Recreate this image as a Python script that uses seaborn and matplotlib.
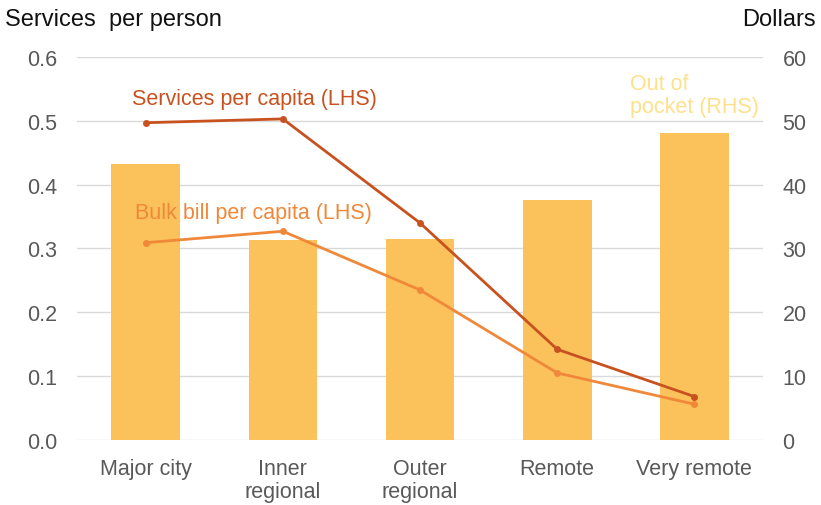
import matplotlib
matplotlib.use("Agg")
import matplotlib.pyplot as plt
import seaborn as sns
import pandas as pd

categories = ["Major city", "Inner\nregional", "Outer\nregional", "Remote", "Very remote"]
out_of_pocket = [43.2, 31.3, 31.5, 37.6, 48.1]
services_per_capita = [0.497, 0.503, 0.340, 0.142, 0.068]
bulk_bill_per_capita = [0.309, 0.327, 0.235, 0.105, 0.056]
left_ticks = [0.0, 0.1, 0.2, 0.3, 0.4, 0.5, 0.6]
right_ticks = [0, 10, 20, 30, 40, 50, 60]

sns.set_theme(style="white")
plt.rcParams['font.family'] = ['Liberation Sans', 'DejaVu Sans']

df = pd.DataFrame({"cat": categories, "oop": out_of_pocket,
                   "svc": services_per_capita, "bulk": bulk_bill_per_capita})

fig = plt.figure(figsize=(8.21, 5.06), dpi=100)
ax = fig.add_axes([0.0938, 0.1285, 0.8356, 0.7569])
ax2 = ax.twinx()

bar_col = "#FBC15A"
svc_col = "#C8521F"
bulk_col = "#F0883A"
tick_col = "#595959"
fs = 15.5

sns.barplot(data=df, x="cat", y="oop", ax=ax2, color=bar_col, width=0.5,
            saturation=1, edgecolor="none")
ax2.set_ylim(0, 60)
ax2.set_yticks(right_ticks)
ax2.grid(axis="y", color="#D9D9D9", linewidth=1)
ax2.set_axisbelow(True)

ax.set_zorder(ax2.get_zorder() + 1)
ax.patch.set_visible(False)

sns.lineplot(data=df, x="cat", y="svc", ax=ax, color=svc_col, marker="o",
             markersize=5, markeredgewidth=0, linewidth=2, sort=False)
sns.lineplot(data=df, x="cat", y="bulk", ax=ax, color=bulk_col, marker="o",
             markersize=5, markeredgewidth=0, linewidth=2, sort=False)
ax.set_ylim(0, 0.6)
ax.set_yticks(left_ticks)
ax.set_yticklabels([f"{t:.1f}" for t in left_ticks])
ax.set_xlim(-0.5, 4.5)

for a in (ax, ax2):
    for s in a.spines.values():
        s.set_visible(False)
    a.set_xlabel("")
    a.set_ylabel("")
    a.tick_params(length=0, labelsize=fs, labelcolor=tick_col)
ax.tick_params(axis="y", pad=14)
ax2.tick_params(axis="y", pad=14)
ax.tick_params(axis="x", pad=13)
ax2.tick_params(axis="x", labelbottom=False)
for lbl in ax.get_xticklabels():
    lbl.set_linespacing(1.15)

fig.text(0.006, 0.96, "Services  per person", fontsize=17, color="#111111", va="center", ha="left")
fig.text(0.994, 0.96, "Dollars", fontsize=17, color="#111111", va="center", ha="right")

ax.text(0.79, 0.535, "Services per capita (LHS)", fontsize=fs, color=svc_col, ha="center", va="center")
ax.text(-0.08, 0.357, "Bulk bill per capita (LHS)", fontsize=fs, color=bulk_col, ha="left", va="center")
ax2.text(3.53, 54.0, "Out of\npocket (RHS)", fontsize=fs, color="#FFE08A", ha="left", va="center",
         linespacing=1.1)

fig.savefig("out.png", dpi=100)
